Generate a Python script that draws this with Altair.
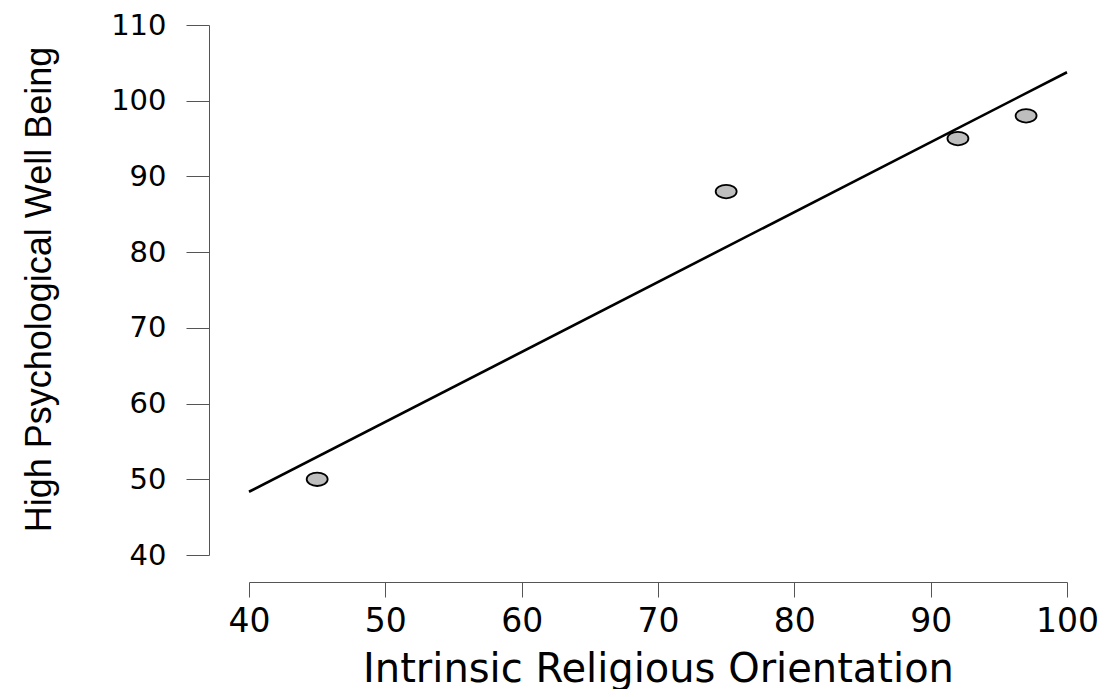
import altair as alt
import pandas as pd

# Data
intrinsic = [45, 75, 92, 97]
wellbeing = [50, 88, 95, 98]
x_ticks = [40, 50, 60, 70, 80, 90, 100]
y_ticks = [40, 50, 60, 70, 80, 90, 100, 110]
x_title = "Intrinsic Religious Orientation"
y_title = "High Psychological Well Being"

df = pd.DataFrame({"x": intrinsic, "y": wellbeing})

ellipse = ("M -1 0 C -1 -0.3535 -0.5523 -0.64 0 -0.64 "
           "C 0.5523 -0.64 1 -0.3535 1 0 "
           "C 1 0.3535 0.5523 0.64 0 0.64 "
           "C -0.5523 0.64 -1 0.3535 -1 0 Z")

xscale = alt.Scale(domain=[40, 100], nice=False, zero=False)
yscale = alt.Scale(domain=[40, 110], nice=False, zero=False)

axis_common = dict(grid=False, domainColor="#555555", tickColor="#555555",
                   domainWidth=1, tickWidth=1, labelColor="black",
                   titleColor="black", titleFontWeight="normal",
                   labelFlush=False, labelOverlap=False)

xaxis = alt.Axis(values=x_ticks, title=x_title, offset=27, tickSize=15,
                 labelFont="DejaVu Sans", labelFontSize=33, labelPadding=8,
                 titleFont="DejaVu Sans", titleFontSize=40,
                 titleBaseline="alphabetic", titleY=99, **axis_common)

yaxis = alt.Axis(values=y_ticks, title=y_title, offset=40, tickSize=23,
                 labelFont="DejaVu Sans", labelFontSize=29, labelPadding=20,
                 titleFont="Liberation Sans", titleFontSize=36, titleAngle=270,
                 titleAlign="center", titleBaseline="alphabetic",
                 titleX=-159, titleY=264, **axis_common)

points = alt.Chart(df).mark_point(
    shape=ellipse, size=440, filled=True, fill="#bebebe", stroke="black",
    strokeWidth=1.8, opacity=1
).encode(
    x=alt.X("x:Q", scale=xscale, axis=xaxis),
    y=alt.Y("y:Q", scale=yscale, axis=yaxis),
)

line = alt.Chart(df).transform_regression(
    "x", "y", extent=[40, 100]
).mark_line(color="black", strokeWidth=2.6).encode(
    x=alt.X("x:Q", scale=xscale, axis=xaxis),
    y=alt.Y("y:Q", scale=yscale, axis=yaxis),
)

chart = alt.layer(points, line).properties(
    width=818, height=530,
    padding={"left": 241, "top": 17, "right": 36, "bottom": 134},
    autosize=alt.AutoSizeParams(type="none"),
).configure_view(stroke=None)

chart.save("out.html", embed_options={"renderer": "svg", "actions": False})
